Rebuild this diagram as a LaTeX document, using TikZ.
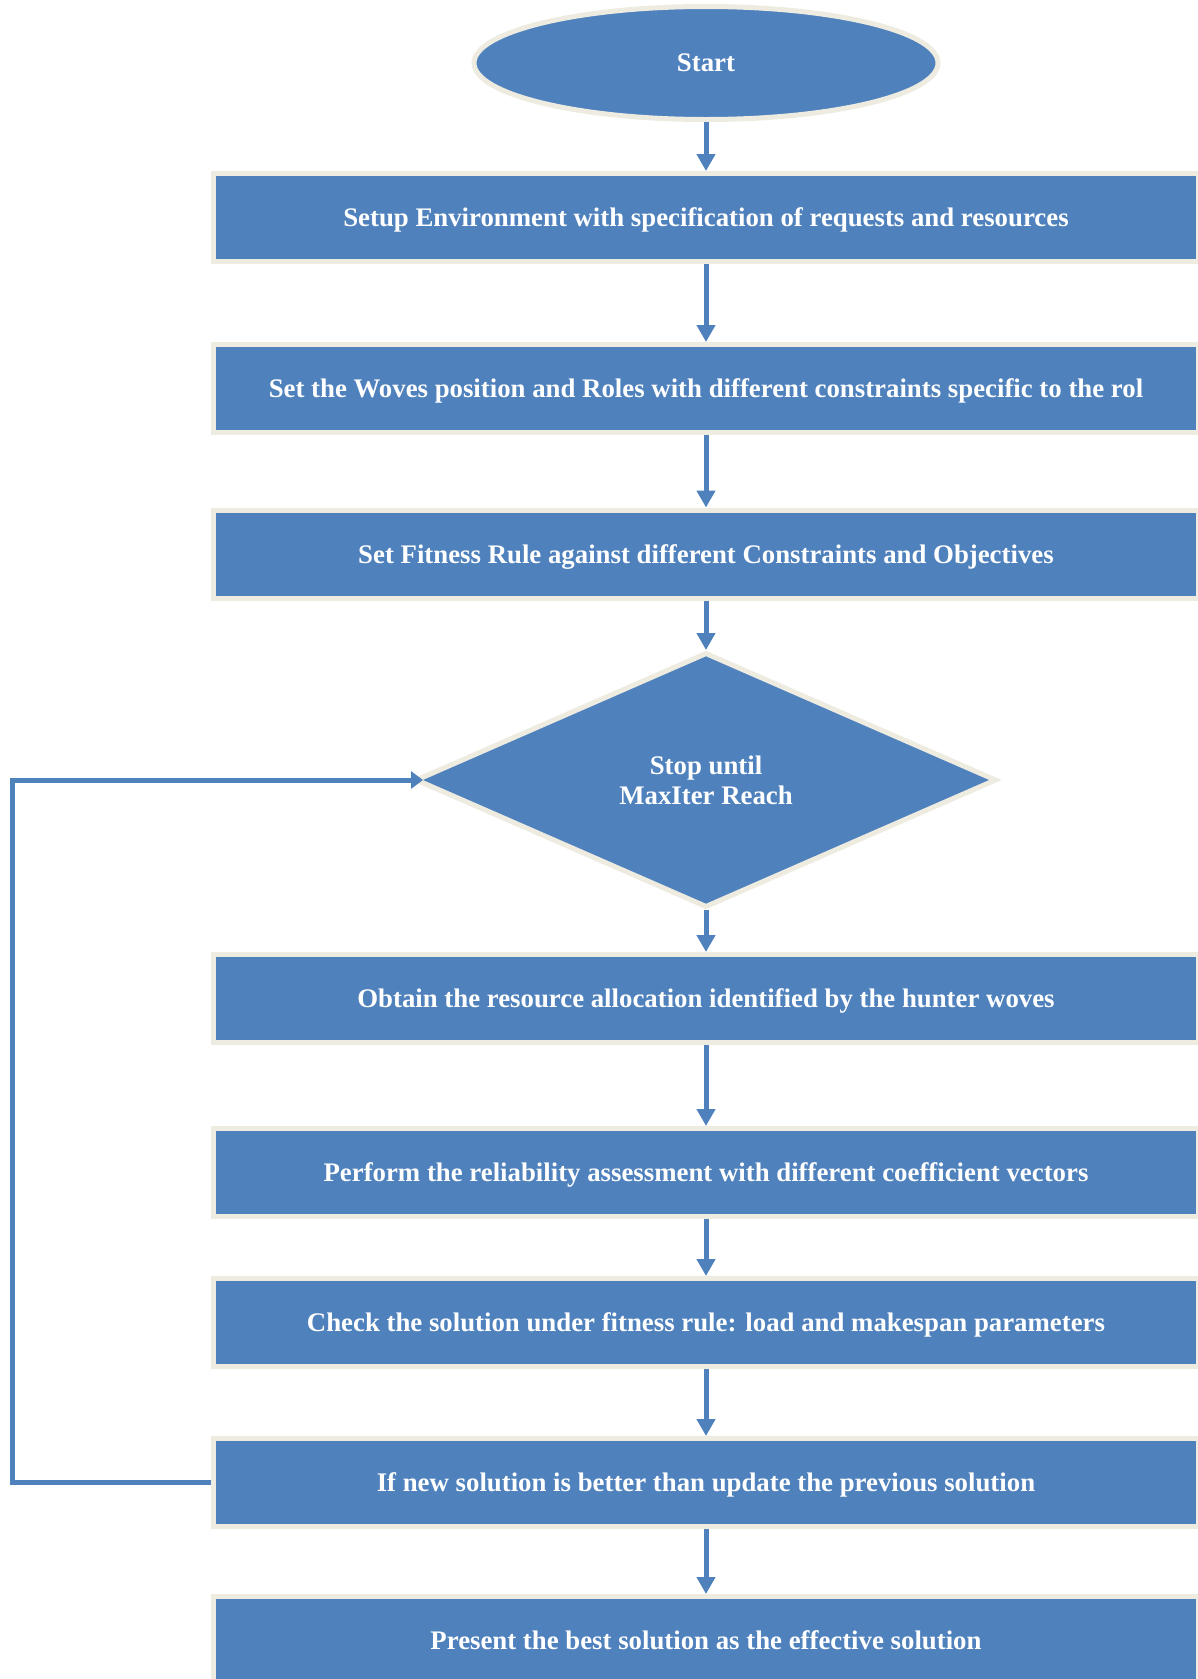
\documentclass[tikz,border=0pt]{standalone}
\usepackage{fontspec}
\setmainfont{Liberation Serif}
\usetikzlibrary{arrows.meta}
\usetikzlibrary{positioning,shapes.geometric}
\definecolor{boxblue}{HTML}{4F81BD}
\definecolor{boxrim}{HTML}{EEECE1}
\tikzset{
    stepbox/.style={
        draw=boxrim,
        fill=boxblue,
        line width=5pt,
        rectangle,
        minimum width=985pt,
        minimum height=88pt,
        inner sep=0pt,
        text depth=0pt,
        text=white,
        align=center,
        font=\fontsize{26.8}{30}\selectfont\bfseries
    },
    startnode/.style={
        stepbox,
        ellipse,
        minimum width=464pt,
        minimum height=113pt
    },
    decision/.style={
        stepbox,
        diamond,
        minimum width=581pt,
        minimum height=255pt
    },
    flow/.style={
        draw=boxblue,
        line width=5pt,
        -{Triangle[length=17pt, width=18pt]}
    }
}

\begin{document}
\begin{tikzpicture}[x=1pt, y=-1pt]
    \clip (0,0) rectangle (1198,1679);
    \fill[white] (0,0) rectangle (1198,1679);
    % Steps
    \node[startnode] (start) at (706,63) {Start};
    \node[stepbox] (setup) at (706,217.5) {Setup Environment with specification of requests and resources};
    \node[stepbox] (roles) at (706,388.5) {Set the Woves position and Roles with different constraints specific to the rol};
    \node[stepbox] (fitness) at (706,554) {Set Fitness Rule against different Constraints and Objectives};
    \node[decision] (stop) at (706,780) {Stop until\\MaxIter Reach};
    \node[stepbox] (obtain) at (706,998.5) {Obtain the resource allocation identified by the hunter woves};
    \node[stepbox] (assess) at (706,1172.5) {Perform the reliability assessment with different coefficient vectors};
    \node[stepbox] (check) at (706,1322.5) {Check the solution under fitness rule: load and makespan parameters};
    \node[stepbox] (update) at (706,1482.5) {If new solution is better than update the previous solution};
    \node[stepbox] (present) at (706,1640.5) {Present the best solution as the effective solution};
    \coordinate (loopcorner) at (12,1482.5);

    % Arrows
    \draw[flow] (start) -- (setup);
    \draw[flow] (setup) -- (roles);
    \draw[flow] (roles) -- (fitness);
    \draw[flow] (fitness) -- (stop);
    \draw[flow] (stop) -- (obtain);
    \draw[flow] (obtain) -- (assess);
    \draw[flow] (assess) -- (check);
    \draw[flow] (check) -- (update);
    \draw[flow] (update) -- (present);
    \draw[flow, -{Triangle[length=12pt, width=17pt]}, shorten >=-10pt] (update.west) -- (loopcorner) |- (stop.west);
\end{tikzpicture}
\end{document}
